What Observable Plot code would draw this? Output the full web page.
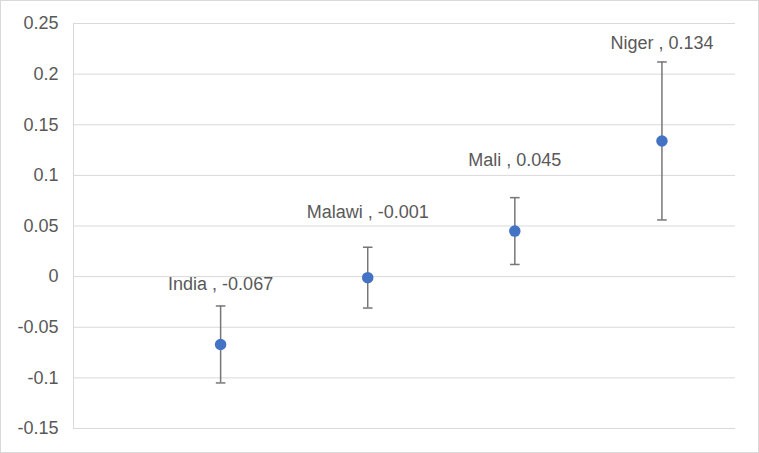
<!DOCTYPE html>
<html>
<head>
<meta charset="utf-8">
<script src="https://cdn.jsdelivr.net/npm/d3@7"></script>
<script src="https://cdn.jsdelivr.net/npm/@observablehq/plot@0.6"></script>
<style>
  html, body { margin: 0; padding: 0; background: #fff; }
  #chart { width: 759px; height: 453px; position: relative; }
</style>
</head>
<body>
<div id="chart"></div>
<script>
// ---- data ----
const countries = ["India", "Malawi", "Mali", "Niger"];
const estimates = [-0.067, -0.001, 0.045, 0.134];
const upper     = [-0.029, 0.029, 0.078, 0.212];
const lower     = [-0.105, -0.031, 0.012, 0.056];
const yTicks    = [-0.15, -0.1, -0.05, 0, 0.05, 0.1, 0.15, 0.2, 0.25];

// ---- styling (label offsets above the upper whisker, in px) ----
const labelDy = {India: -22, Malawi: -35, Mali: -37, Niger: -19};

const data = countries.map((c, i) => ({
  country: c, pos: i + 1, est: estimates[i], hi: upper[i], lo: lower[i],
  label: `${c} , ${estimates[i]}`
}));

const capSymbol = {
  draw(ctx, size) {
    const r = Math.sqrt(size / Math.PI);
    ctx.moveTo(-r, 0);
    ctx.lineTo(r, 0);
  }
};

const font = "'Liberation Sans', Arial, Helvetica, sans-serif";
const grey = "#d9d9d9";
const errColor = "#767676";

const chart = Plot.plot({
  width: 759,
  height: 453,
  marginTop: 23,
  marginBottom: 25,
  marginLeft: 73,
  marginRight: 24,
  style: {fontFamily: font, fontSize: "18px", color: "#595959", background: "#fff"},
  x: {domain: [0, 4.5], axis: null},
  y: {domain: [-0.15, 0.25], ticks: yTicks, tickSize: 0, tickPadding: 15,
      tickFormat: d => String(+d.toFixed(2)), label: null},
  marks: [
    Plot.ruleY(yTicks, {stroke: grey, strokeWidth: 1}),
    Plot.ruleX([0], {stroke: grey, strokeWidth: 1}),
    Plot.ruleX(data, {x: "pos", y1: "lo", y2: "hi", stroke: errColor, strokeWidth: 1.5}),
    Plot.dot(data, {x: "pos", y: "hi", symbol: capSymbol, r: 4.8, stroke: errColor, strokeWidth: 1.5}),
    Plot.dot(data, {x: "pos", y: "lo", symbol: capSymbol, r: 4.8, stroke: errColor, strokeWidth: 1.5}),
    Plot.dot(data, {x: "pos", y: "est", r: 5.75, fill: "#4472C4", stroke: "none"}),
    ...data.map(d => Plot.text([d], {x: "pos", y: "hi", text: "label", dy: labelDy[d.country],
      fill: "#595959", fontSize: 18, textAnchor: "middle"}))
  ]
});

document.getElementById("chart").appendChild(chart);
// outer chart-area border
d3.select(chart).append("rect")
  .attr("x", 0.5).attr("y", 0.5).attr("width", 758).attr("height", 452)
  .attr("fill", "none").attr("stroke", grey).attr("stroke-width", 1);
</script>
</body>
</html>
